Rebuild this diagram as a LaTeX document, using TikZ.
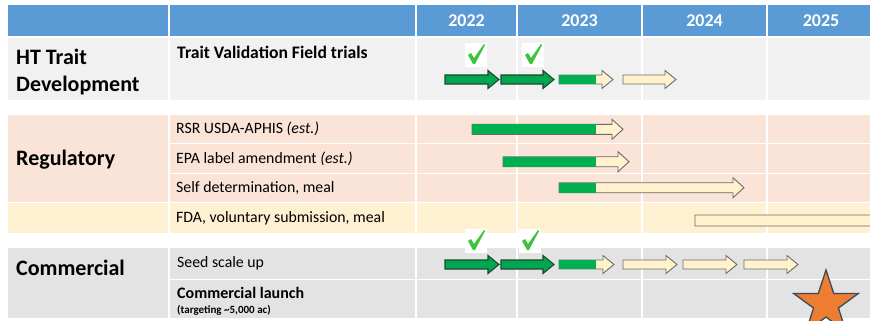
\documentclass[tikz,border=0pt]{standalone}
\usepackage{fontspec}
\setmainfont{Carlito}
\usetikzlibrary{shapes.geometric}
\definecolor{hdrblue}{HTML}{5B9BD5}
\definecolor{rowgray}{HTML}{F1F1F1}
\definecolor{rowsalmon}{HTML}{FAE3D7}
\definecolor{rowcream}{HTML}{FEF1D2}
\definecolor{rowdark}{HTML}{E3E3E3}
\definecolor{donegreen}{HTML}{00A651}
\definecolor{doneline}{HTML}{1D4A2A}
\definecolor{partgreen}{HTML}{00B050}
\definecolor{barfill}{HTML}{FFF2CC}
\definecolor{barline}{HTML}{6B6B6B}
\definecolor{ticklime}{HTML}{3CC43C}
\definecolor{starorange}{HTML}{ED7D31}
\definecolor{starline}{HTML}{3B4A5A}

% block arrow: style, start x, tip x, centre y, body half height
\newcommand{\blockarrow}[5]{%
  \path[#1] (#2,#4-#5) -- (#3-11,#4-#5) -- (#3-11,#4-2*#5) -- (#3,#4)
    -- (#3-11,#4+2*#5) -- (#3-11,#4+#5) -- (#2,#4+#5) -- cycle;}
% part-done arrow: start x, tip x, centre y, body half height, end of green
\newcommand{\partarrow}[5]{%
  \blockarrow{todo}{#1}{#2}{#3}{#4}
  \fill[partgreen] (#1,#3-#4) rectangle (#5,#3+#4);}
% green tick on a white patch
\newcommand{\tickbox}[2]{%
  \fill[white] (#1-11,#2-12) rectangle (#1+11,#2+12);
  \fill[ticklime] (#1-8,#2) -- (#1-5,#2-2) -- (#1-2,#2+3) -- (#1+8,#2-11)
    -- (#1+9,#2-10) -- (#1-1,#2+9) -- (#1-3,#2+9) -- cycle;}

\begin{document}
\begin{tikzpicture}[x=1pt, y=-1pt,
  hdr/.style={inner sep=0, text=white, font=\bfseries\fontsize{18}{20}\selectfont},
  group/.style={anchor=base west, inner sep=0, font=\bfseries\fontsize{22}{26}\selectfont},
  task/.style={anchor=base west, inner sep=0, font=\fontsize{15.8}{18}\selectfont},
  done/.style={fill=donegreen, draw=doneline, line width=1.1pt},
  todo/.style={fill=barfill, draw=barline, line width=0.9pt},
  grid/.style={white, line width=1.3pt}]
  \useasboundingbox (0,0) rectangle (870,321);
  \clip (0,0) rectangle (870,321);

  % table bands
  \fill[hdrblue] (8,5) rectangle (870,36);
  \fill[rowgray] (8,38) rectangle (870,100);
  \fill[rowsalmon] (8,115) rectangle (870,202);
  \fill[rowcream] (8,202) rectangle (870,233);
  \fill[rowdark] (8,248) rectangle (870,318);

  % cell borders
  \foreach \x in {169,416,517,642,767}{
    \draw[grid] (\x,5) -- (\x,100);
    \draw[grid] (\x,115) -- (\x,233);
    \draw[grid] (\x,248) -- (\x,318);
  }
  \foreach \y in {143.5,173.5,279.5}{
    \draw[grid] (169,\y) -- (870,\y);
  }
  \draw[grid] (8,202.5) -- (870,202.5);

  % years
  \foreach \yr/\x in {2022/466.5,2023/579.5,2024/704.5,2025/821}{
    \node[hdr] (y\yr) at (\x,21) {\yr};
  }

  % row labels
  \node[group] (trait) at (16,64) {HT Trait};
  \node[group] (traitb) at (16,92) {Development};
  \node[group] (reg) at (16,165) {Regulatory};
  \node[group] (comm) at (16,275) {Commercial};

  \node[task, font=\bfseries\fontsize{17.6}{20}\selectfont] (field) at (177,58.5) {Trait Validation Field trials};
  \node[task] (rsr) at (176,133.5) {RSR USDA-APHIS \textit{(est.)}};
  \node[task] (epa) at (176,163) {EPA label amendment \textit{(est.)}};
  \node[task] (self) at (176,192) {Self determination, meal};
  \node[task] (fda) at (176,222) {FDA, voluntary submission, meal};
  \node[task] (seed) at (177,267) {Seed scale up};
  \node[task, font=\bfseries\fontsize{16}{18}\selectfont] (launch) at (177,298) {Commercial launch};
  \node[task, font=\bfseries\fontsize{11}{12}\selectfont] (target) at (177,313) {(targeting \textasciitilde5,000 ac)};

  % field trials
  \blockarrow{done}{445}{499}{79.5}{4.5}
  \blockarrow{done}{501}{554}{79.5}{4.5}
  \partarrow{559}{613}{79.5}{4.5}{596}
  \blockarrow{todo}{623}{676}{79.5}{4.5}
  \tickbox{476}{55}
  \tickbox{533}{55}

  % regulatory
  \partarrow{472}{623}{129.3}{5}{596}
  \partarrow{503}{629}{161.7}{5}{596}
  \partarrow{559}{744}{187.7}{5}{596}
  \blockarrow{todo}{695}{900}{220.5}{5.5}

  % seed scale up
  \blockarrow{done}{445}{499}{264.5}{4.5}
  \blockarrow{done}{501}{554}{264.5}{4.5}
  \partarrow{559}{614}{264.5}{4.5}{596}
  \foreach \a/\b in {623/677,683/737,744/798}{
    \blockarrow{todo}{\a}{\b}{264.5}{4.5}
  }
  \tickbox{476}{241}
  \tickbox{530}{241}

  % launch
  \node[star, star points=5, star point ratio=2.6, minimum size=68pt, inner sep=0,
    fill=starorange, draw=starline, line width=1.3pt] (goal) at (826,304) {};
\end{tikzpicture}
\end{document}
